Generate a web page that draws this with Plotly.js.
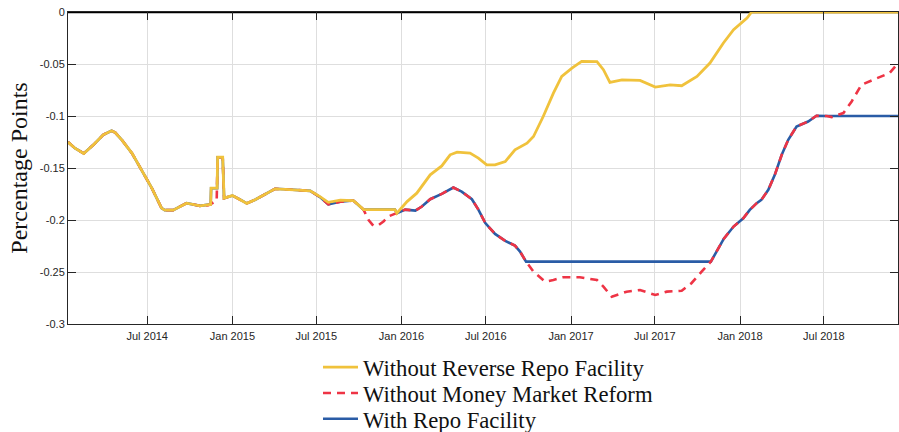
<!DOCTYPE html>
<html>
<head>
<meta charset="utf-8">
<script src="https://cdn.plot.ly/plotly-3.0.1.min.js"></script>
<style>html,body{margin:0;padding:0;background:#fff;}#chart{width:899px;height:432px;}</style>
</head>
<body>
<div id="chart"></div>
<script>
// Shared early segment (all three scenarios coincide)
const earlyDates = ['2014-01-11','2014-01-26','2014-02-14','2014-03-07','2014-03-28','2014-04-15','2014-04-23','2014-05-07','2014-05-29','2014-06-19','2014-07-11','2014-08-01','2014-08-08','2014-08-26','2014-09-24','2014-10-23','2014-11-10'];
const earlyVals  = [-0.1250,-0.1310,-0.1360,-0.1277,-0.1181,-0.1142,-0.1159,-0.1229,-0.1357,-0.1518,-0.1694,-0.1886,-0.1905,-0.1905,-0.1838,-0.1864,-0.1858];

// Without Reverse Repo Facility
const yellowDates = ['2014-11-15','2014-11-16','2014-11-29','2014-11-30','2014-12-11','2014-12-14','2015-01-01','2015-01-16','2015-02-01','2015-02-19','2015-03-13','2015-04-03','2015-04-25','2015-05-27','2015-06-18','2015-07-09','2015-07-27','2015-08-22','2015-09-19','2015-09-30','2015-10-11','2015-12-18','2015-12-22','2016-01-13','2016-02-03','2016-03-03','2016-03-28','2016-04-15','2016-04-30','2016-05-28','2016-06-15','2016-07-03','2016-07-21','2016-08-12','2016-09-02','2016-09-28','2016-10-12','2016-11-02','2016-11-24','2016-12-12','2017-01-03','2017-01-24','2017-02-26','2017-03-12','2017-03-26','2017-04-21','2017-05-30','2017-07-02','2017-08-03','2017-08-28','2017-09-30','2017-10-28','2017-11-26','2017-12-18','2018-01-16','2018-01-26','2018-12-08'];
const yellowVals  = [-0.1850,-0.1694,-0.1694,-0.1396,-0.1396,-0.1790,-0.1765,-0.1800,-0.1840,-0.1805,-0.1750,-0.1700,-0.1705,-0.1717,-0.1720,-0.1775,-0.1830,-0.1810,-0.1813,-0.1855,-0.1900,-0.1900,-0.1935,-0.1823,-0.1742,-0.1566,-0.1480,-0.1373,-0.1347,-0.1357,-0.1405,-0.1470,-0.1470,-0.1438,-0.1325,-0.1261,-0.1197,-0.1005,-0.0780,-0.0620,-0.0539,-0.0475,-0.0478,-0.0555,-0.0677,-0.0652,-0.0658,-0.0722,-0.0700,-0.0709,-0.0620,-0.0491,-0.0298,-0.0170,-0.0058,0.0000,0.0000];

// Without Money Market Reform
const redDates = ['2014-11-28','2014-11-30','2014-12-11','2014-12-14','2015-01-01','2015-01-16','2015-02-01','2015-02-19','2015-03-13','2015-04-03','2015-04-25','2015-05-27','2015-06-18','2015-07-09','2015-07-27','2015-08-22','2015-09-19','2015-09-30','2015-10-11','2015-10-22','2015-11-01','2015-11-12','2015-11-23','2015-12-03','2015-12-22','2016-01-09','2016-01-31','2016-02-14','2016-03-03','2016-03-28','2016-04-22','2016-05-10','2016-06-01','2016-06-15','2016-06-30','2016-07-21','2016-08-12','2016-09-02','2016-09-13','2016-09-26','2016-10-12','2016-11-06','2016-11-24','2016-12-15','2017-01-20','2017-02-26','2017-03-12','2017-03-30','2017-05-01','2017-05-30','2017-07-02','2017-07-27','2017-08-28','2017-09-18','2017-10-10','2017-10-30','2017-11-27','2017-12-18','2018-01-08','2018-01-22','2018-02-06','2018-02-16','2018-03-03','2018-03-17','2018-04-01','2018-04-15','2018-05-03','2018-05-28','2018-06-15','2018-07-07','2018-07-18','2018-08-12','2018-08-30','2018-09-20','2018-10-19','2018-11-20','2018-12-05'];
const redVals  = [-0.1815,-0.1396,-0.1396,-0.1790,-0.1765,-0.1800,-0.1840,-0.1805,-0.1750,-0.1700,-0.1705,-0.1717,-0.1720,-0.1780,-0.1850,-0.1825,-0.1813,-0.1855,-0.1900,-0.2000,-0.2054,-0.2050,-0.2015,-0.1967,-0.1935,-0.1900,-0.1910,-0.1870,-0.1800,-0.1749,-0.1688,-0.1727,-0.1800,-0.1900,-0.2030,-0.2134,-0.2201,-0.2246,-0.2304,-0.2400,-0.2497,-0.2593,-0.2577,-0.2551,-0.2550,-0.2577,-0.2641,-0.2737,-0.2689,-0.2673,-0.2721,-0.2689,-0.2680,-0.2608,-0.2497,-0.2400,-0.2180,-0.2063,-0.1983,-0.1903,-0.1838,-0.1807,-0.1710,-0.1566,-0.1373,-0.1229,-0.1101,-0.1053,-0.0998,-0.1000,-0.1010,-0.0972,-0.0860,-0.0700,-0.0645,-0.0587,-0.0507];

// With Repo Facility
const blueDates = ['2014-11-15','2014-11-16','2014-11-29','2014-11-30','2014-12-11','2014-12-14','2015-01-01','2015-01-16','2015-02-01','2015-02-19','2015-03-13','2015-04-03','2015-04-25','2015-05-27','2015-06-18','2015-07-09','2015-07-27','2015-08-22','2015-09-19','2015-09-30','2015-10-11','2015-12-18','2015-12-22','2016-01-09','2016-01-31','2016-02-14','2016-03-03','2016-03-28','2016-04-22','2016-05-10','2016-06-01','2016-06-15','2016-06-30','2016-07-21','2016-08-12','2016-09-02','2016-09-13','2016-09-26','2017-10-30','2017-11-27','2017-12-18','2018-01-08','2018-01-22','2018-02-06','2018-02-16','2018-03-03','2018-03-17','2018-04-01','2018-04-15','2018-05-03','2018-05-28','2018-06-15','2018-07-07','2018-12-08'];
const blueVals  = [-0.1850,-0.1694,-0.1694,-0.1396,-0.1396,-0.1790,-0.1765,-0.1800,-0.1840,-0.1805,-0.1750,-0.1700,-0.1705,-0.1717,-0.1720,-0.1780,-0.1850,-0.1825,-0.1813,-0.1855,-0.1900,-0.1900,-0.1935,-0.1900,-0.1910,-0.1870,-0.1800,-0.1749,-0.1688,-0.1727,-0.1800,-0.1900,-0.2030,-0.2134,-0.2201,-0.2246,-0.2304,-0.2400,-0.2400,-0.2180,-0.2063,-0.1983,-0.1903,-0.1838,-0.1807,-0.1710,-0.1566,-0.1373,-0.1229,-0.1101,-0.1053,-0.0998,-0.1000,-0.1000];

const seriesNames = ['Without Reverse Repo Facility','Without Money Market Reform','With Repo Facility'];

const xTickVals = ['2014-07-01','2015-01-01','2015-07-01','2016-01-01','2016-07-01','2017-01-01','2017-07-01','2018-01-01','2018-07-01'];
const xTickText = ['Jul 2014','Jan 2015','Jul 2015','Jan 2016','Jul 2016','Jan 2017','Jul 2017','Jan 2018','Jul 2018'];
const yTickVals = [-0.3,-0.25,-0.2,-0.15,-0.1,-0.05,0];
const yTickText = ['-0.3','-0.25','-0.2','-0.15','-0.1','-0.05','0'];

const traces = [
  {x: earlyDates.concat(blueDates), y: earlyVals.concat(blueVals), name: seriesNames[2], type:'scatter', mode:'lines',
   line:{color:'#2A5CA6', width:2.6}, legend:'legend3'},
  {x: earlyDates.concat(redDates), y: earlyVals.concat(redVals), name: seriesNames[1], type:'scatter', mode:'lines',
   line:{color:'#EE3445', width:2.6, dash:'8px,6px'}, legend:'legend2'},
  {x: earlyDates.concat(yellowDates), y: earlyVals.concat(yellowVals), name: seriesNames[0], type:'scatter', mode:'lines',
   line:{color:'#F0C23C', width:2.8}, legend:'legend'}
];

const axisFont = {family:'Liberation Sans, Arial, sans-serif', size:11, color:'#262626'};
const legFont = {family:'Liberation Serif, Times New Roman, serif', size:22.7, color:'#111'};
function leg(y){
  return {x:0.3012, y:y, xanchor:'left', yanchor:'middle', font:legFont,
    bgcolor:'rgba(0,0,0,0)', borderwidth:0, itemwidth:35};
}

const layout = {
  width:899, height:432,
  margin:{l:68, r:1, t:12, b:108, autoexpand:false},
  paper_bgcolor:'#fff', plot_bgcolor:'#fff',
  showlegend:true,
  legend:leg(-0.1388),
  legend2:leg(-0.2221),
  legend3:leg(-0.3045),
  xaxis:{type:'date', range:['2014-01-11','2018-12-08'], tickvals:xTickVals, ticktext:xTickText,
    tickfont:axisFont, tickangle:0, ticks:'inside', ticklen:8, tickcolor:'#262626', tickwidth:1,
    ticklabelstandoff:2,
    showline:true, linecolor:'#262626', linewidth:1, mirror:'ticks',
    showgrid:true, gridcolor:'#DEDEDE', gridwidth:1, zeroline:false, fixedrange:true},
  yaxis:{range:[-0.3,0], tickvals:yTickVals, ticktext:yTickText,
    tickfont:axisFont, ticks:'inside', ticklen:8, tickcolor:'#262626', tickwidth:1,
    showline:true, linecolor:'#262626', linewidth:1, mirror:'ticks',
    showgrid:true, gridcolor:'#DEDEDE', gridwidth:1, zeroline:false,
    title:{text:'Percentage Points', font:{family:'Liberation Serif, Times New Roman, serif', size:24, color:'#111'}, standoff:5}},
  shapes:[{type:'line', xref:'paper', yref:'y', x0:0, x1:1, y0:0, y1:0, line:{color:'#000', width:2.5}, layer:'below'}]
};

Plotly.newPlot('chart', traces, layout, {staticPlot:true, displayModeBar:false});
</script>
</body>
</html>
